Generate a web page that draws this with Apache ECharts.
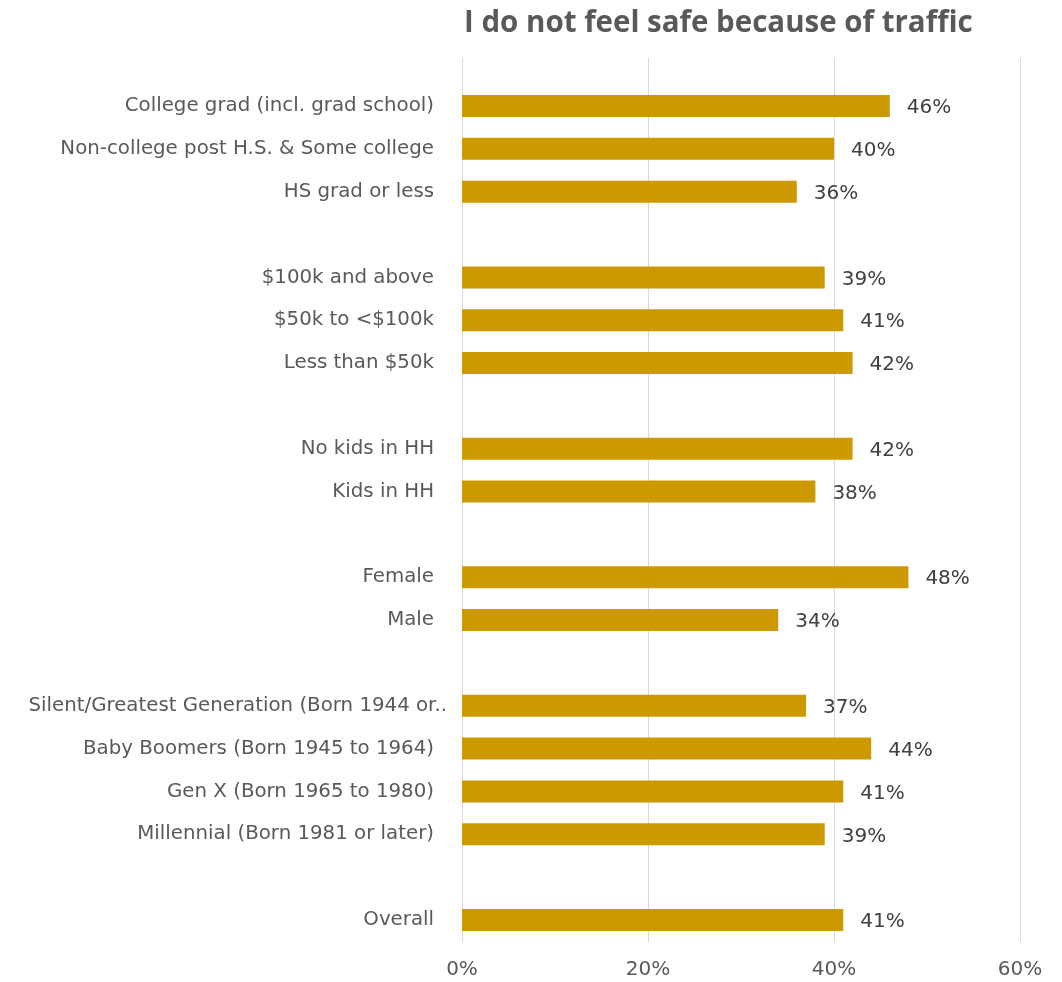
<!DOCTYPE html>
<html>
<head>
<meta charset="utf-8">
<script src="https://cdn.jsdelivr.net/npm/echarts@6/dist/echarts.min.js"></script>
<style>
  html, body { margin: 0; padding: 0; background: #ffffff; }
  #chart { width: 1062px; height: 982px; }
</style>
</head>
<body>
<div id="chart"></div>
<script>
// Survey groups, top to bottom; blank entries separate the groups
const categories = [
  'College grad (incl. grad school)',
  'Non-college post H.S. & Some college',
  'HS grad or less',
  '',
  '$100k and above',
  '$50k to <$100k',
  'Less than $50k',
  ' ',
  'No kids in HH',
  'Kids in HH',
  '  ',
  'Female',
  'Male',
  '   ',
  'Silent/Greatest Generation (Born 1944 or..',
  'Baby Boomers (Born 1945 to 1964)',
  'Gen X (Born 1965 to 1980)',
  'Millennial (Born 1981 or later)',
  '    ',
  'Overall'
];

// Share answering "I do not feel safe because of traffic" (%)
const values = [
  46, 40, 36, null,
  39, 41, 42, null,
  42, 38, null,
  48, 34, null,
  37, 44, 41, 39, null,
  41
];

const xTicks = { min: 0, max: 60, interval: 20 };

const chart = echarts.init(document.getElementById('chart'), null, { renderer: 'canvas' });

const labelFont = '"DejaVu Sans", "Open Sans", sans-serif';

// the truncated generation label runs a little past the others
const yAxisData = categories.map(function (name) {
  if (name.slice(-2) === '..') {
    return { value: name, textStyle: { padding: [0, -13, 0, 0] } };
  }
  return name;
});

chart.setOption({
  animation: false,
  backgroundColor: '#ffffff',
  title: {
    text: 'I do not feel safe because of traffic',
    left: 459,
    top: 4,
    textStyle: {
      fontFamily: '"Open Sans", sans-serif',
      fontWeight: 'bold',
      fontSize: 29.5,
      color: '#595959'
    }
  },
  grid: [
    // full-height plot area carrying the vertical gridlines
    { left: 462, right: 42, top: 58, bottom: 40, containLabel: false },
    // band area for the bars
    { left: 462, right: 42, top: 84.6, bottom: 40.6, containLabel: false }
  ],
  xAxis: [
    {
      gridIndex: 0,
      type: 'value',
      min: xTicks.min,
      max: xTicks.max,
      interval: xTicks.interval,
      axisLine: { show: false },
      axisTick: { show: false },
      splitLine: { show: true, lineStyle: { color: '#d9d9d9', width: 1 } },
      axisLabel: {
        formatter: '{value}%',
        margin: 18,
        fontFamily: labelFont,
        fontSize: 20,
        color: '#595959'
      }
    },
    {
      gridIndex: 1,
      type: 'value',
      min: xTicks.min,
      max: xTicks.max,
      interval: xTicks.interval,
      show: false
    }
  ],
  yAxis: [
    {
      gridIndex: 0,
      type: 'category',
      data: [''],
      show: false
    },
    {
      gridIndex: 1,
      type: 'category',
      data: yAxisData,
      inverse: true,
      axisLine: { show: false },
      axisTick: { show: false },
      splitLine: { show: false },
      axisLabel: {
        interval: 0,
        margin: 28,
        fontFamily: labelFont,
        fontSize: 19.8,
        color: '#595959'
      }
    }
  ],
  series: [
    {
      type: 'bar',
      xAxisIndex: 1,
      yAxisIndex: 1,
      data: values,
      barWidth: 22,
      itemStyle: { color: '#cc9900' },
      label: {
        show: true,
        position: 'right',
        distance: 17,
        offset: [0, 2],
        formatter: '{c}%',
        fontFamily: labelFont,
        fontSize: 20,
        color: '#404040'
      }
    }
  ]
});
</script>
</body>
</html>
